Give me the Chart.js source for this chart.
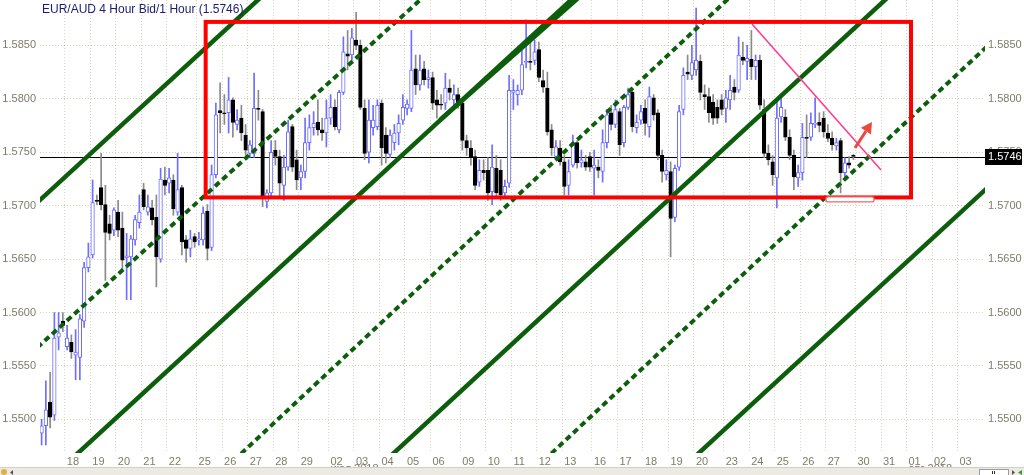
<!DOCTYPE html>
<html><head><meta charset="utf-8">
<script src="https://cdn.jsdelivr.net/npm/chart.js@4.4.1/dist/chart.umd.min.js"></script>
<style>html,body{margin:0;padding:0;background:#fff;overflow:hidden}#wrap{position:relative;width:1024px;height:475px}</style>
</head><body><div id="wrap"><canvas id="c"></canvas></div>
<script>
// 4-hour candles, one slot per candle (Sunday = 1 slot). First candle sits in slot -6.
const firstSlot = -6;
const opens = [
1.5487,1.5494,1.5516,1.5504,1.5577,1.5592,
1.5568,1.5572,1.5560,1.5558,1.5592,1.5642, 1.5654,1.5705,1.5717,1.5701,1.5683,1.5677, 1.5694,1.5679,1.5651,1.5652,1.5668,1.5684, 1.5715,1.5694,1.5698,1.5689,1.5650,1.5724, 1.5721,1.5724,1.5694,1.5717,1.5668,1.5660,
1.5671,
1.5668,1.5668,1.5695,1.5661,1.5729,1.5789, 1.5787,1.5787,1.5799,1.5776,1.5782,1.5766, 1.5749,1.5749,1.5791,1.5788,1.5704,1.5712, 1.5752,1.5746,1.5719,1.5736,1.5774,1.5743, 1.5726,1.5732,1.5759,1.5773,1.5778,1.5771,
1.5768,
1.5782,1.5792,1.5771,1.5806,1.5842,1.5841, 1.5855,1.5850,1.5791,1.5750,1.5773,1.5774, 1.5796,1.5766,1.5748,1.5759,1.5768,1.5780, 1.5791,1.5791,1.5828,1.5813,1.5828,1.5818, 1.5820,1.5799,1.5795,1.5796,1.5810,1.5799,
1.5804,
1.5796,1.5761,1.5754,1.5746,1.5722,1.5733, 1.5733,1.5713,1.5735,1.5733,1.5712,1.5721, 1.5806,1.5804,1.5808,1.5834,1.5835,1.5836, 1.5846,1.5817,1.5810,1.5771,1.5746,1.5754, 1.5741,1.5719,1.5738,1.5759,1.5740,1.5741,
1.5746,
1.5735,1.5736,1.5732,1.5759,1.5787,1.5776, 1.5788,1.5759,1.5792,1.5806,1.5773,1.5780, 1.5791,1.5774,1.5801,1.5787,1.5747,1.5729, 1.5732,1.5689,1.5736,1.5790,1.5825,1.5822, 1.5827,1.5835,1.5804,1.5802,1.5797,1.5792,
1.5799,
1.5791,1.5799,1.5811,1.5808,1.5839,1.5835, 1.5837,1.5830,1.5836,1.5790,1.5749,1.5741, 1.5726,1.5783,1.5783,1.5764,1.5747,1.5726, 1.5731,1.5764,1.5764,1.5776,1.5778,1.5782, 1.5768,1.5763,1.5756,1.5761,1.5731,1.5740,
1.5747];
const highs = [
1.5500,1.5536,1.5544,1.5600,1.5600,1.5600,
1.5588,1.5579,1.5584,1.5598,1.5647,1.5665, 1.5724,1.5710,1.5749,1.5719,1.5691,1.5698, 1.5705,1.5694,1.5674,1.5672,1.5691,1.5710, 1.5721,1.5710,1.5705,1.5710,1.5735,1.5736, 1.5735,1.5729,1.5749,1.5719,1.5672,1.5677,
1.5674,
1.5675,1.5699,1.5701,1.5738,1.5796,1.5815, 1.5804,1.5820,1.5801,1.5790,1.5794,1.5776, 1.5761,1.5824,1.5808,1.5790,1.5715,1.5761, 1.5761,1.5752,1.5747,1.5780,1.5776,1.5752, 1.5738,1.5782,1.5785,1.5788,1.5799,1.5782,
1.5799,
1.5804,1.5799,1.5808,1.5858,1.5864,1.5866, 1.5881,1.5855,1.5799,1.5799,1.5794,1.5799, 1.5799,1.5773,1.5771,1.5776,1.5785,1.5804, 1.5799,1.5864,1.5841,1.5841,1.5835,1.5827, 1.5825,1.5808,1.5804,1.5824,1.5818,1.5813,
1.5810,
1.5799,1.5766,1.5761,1.5752,1.5743,1.5743, 1.5745,1.5757,1.5747,1.5743,1.5724,1.5822, 1.5818,1.5813,1.5852,1.5874,1.5855,1.5855, 1.5853,1.5827,1.5825,1.5776,1.5761,1.5761, 1.5747,1.5743,1.5766,1.5761,1.5752,1.5747,
1.5750,
1.5752,1.5743,1.5771,1.5790,1.5794,1.5799, 1.5791,1.5794,1.5810,1.5808,1.5785,1.5794, 1.5799,1.5811,1.5804,1.5790,1.5752,1.5743, 1.5741,1.5738,1.5794,1.5829,1.5841,1.5850, 1.5885,1.5841,1.5813,1.5810,1.5804,1.5799,
1.5804,
1.5808,1.5822,1.5818,1.5858,1.5853,1.5850, 1.5864,1.5841,1.5841,1.5799,1.5757,1.5747, 1.5799,1.5802,1.5790,1.5771,1.5752,1.5738, 1.5777,1.5785,1.5787,1.5801,1.5787,1.5788, 1.5776,1.5769,1.5763,1.5763,1.5745,1.5746,
1.5748];
const lows = [
1.5476,1.5476,1.5492,1.5499,1.5565,1.5582,
1.5565,1.5557,1.5537,1.5537,1.5586,1.5638, 1.5651,1.5701,1.5696,1.5630,1.5668,1.5672, 1.5671,1.5640,1.5612,1.5612,1.5663,1.5679, 1.5696,1.5691,1.5682,1.5624,1.5647,1.5710, 1.5712,1.5691,1.5691,1.5654,1.5647,1.5652,
1.5661,
1.5663,1.5663,1.5649,1.5658,1.5726,1.5768, 1.5776,1.5768,1.5764,1.5771,1.5761,1.5747, 1.5745,1.5745,1.5780,1.5699,1.5698,1.5707, 1.5738,1.5707,1.5705,1.5733,1.5732,1.5715, 1.5715,1.5726,1.5752,1.5766,1.5766,1.5761,
1.5755,
1.5776,1.5771,1.5768,1.5804,1.5827,1.5836, 1.5846,1.5790,1.5743,1.5740,1.5766,1.5771, 1.5738,1.5740,1.5745,1.5752,1.5757,1.5776, 1.5785,1.5788,1.5804,1.5808,1.5813,1.5810, 1.5790,1.5782,1.5790,1.5790,1.5799,1.5794,
1.5791,
1.5752,1.5747,1.5738,1.5715,1.5718,1.5724, 1.5705,1.5701,1.5707,1.5705,1.5708,1.5717, 1.5790,1.5794,1.5804,1.5829,1.5827,1.5832, 1.5816,1.5806,1.5766,1.5747,1.5743,1.5738, 1.5710,1.5710,1.5736,1.5735,1.5736,1.5733,
1.5732,
1.5710,1.5726,1.5722,1.5754,1.5771,1.5773, 1.5747,1.5755,1.5790,1.5769,1.5768,1.5776, 1.5766,1.5764,1.5780,1.5743,1.5722,1.5724, 1.5652,1.5685,1.5733,1.5785,1.5818,1.5818, 1.5822,1.5799,1.5790,1.5778,1.5776,1.5777,
1.5785,
1.5778,1.5790,1.5799,1.5806,1.5832,1.5818, 1.5818,1.5818,1.5790,1.5745,1.5738,1.5719, 1.5698,1.5778,1.5761,1.5743,1.5715,1.5718, 1.5724,1.5745,1.5761,1.5773,1.5769,1.5764, 1.5760,1.5752,1.5752,1.5712,1.5724,1.5735,
1.5743];
const closes = [
1.5494,1.5509,1.5502,1.5576,1.5581,1.5588,
1.5576,1.5563,1.5563,1.5594,1.5642,1.5652, 1.5703,1.5704,1.5701,1.5675,1.5674,1.5696, 1.5677,1.5649,1.5653,1.5669,1.5687,1.5694, 1.5699,1.5699,1.5687,1.5652,1.5725,1.5719, 1.5726,1.5697,1.5715,1.5666,1.5660,1.5669,
1.5666,
1.5669,1.5693,1.5660,1.5729,1.5785,1.5787, 1.5786,1.5799,1.5778,1.5780,1.5768,1.5752, 1.5757,1.5791,1.5790,1.5708,1.5712,1.5750, 1.5746,1.5721,1.5736,1.5769,1.5736,1.5724, 1.5732,1.5759,1.5773,1.5777,1.5771,1.5768,
1.5782,
1.5792,1.5774,1.5806,1.5844,1.5840,1.5857, 1.5850,1.5792,1.5749,1.5780,1.5780,1.5794, 1.5754,1.5749,1.5766,1.5768,1.5777,1.5792, 1.5795,1.5827,1.5813,1.5827,1.5818,1.5820, 1.5796,1.5794,1.5794,1.5810,1.5806,1.5804,
1.5796,
1.5761,1.5754,1.5745,1.5719,1.5733,1.5731, 1.5712,1.5736,1.5712,1.5710,1.5718,1.5808, 1.5808,1.5808,1.5832,1.5835,1.5834,1.5844, 1.5820,1.5811,1.5769,1.5754,1.5755,1.5741, 1.5718,1.5732,1.5759,1.5740,1.5743,1.5736,
1.5736,
1.5738,1.5733,1.5759,1.5785,1.5776,1.5790, 1.5757,1.5792,1.5804,1.5774,1.5778,1.5788, 1.5777,1.5802,1.5785,1.5747,1.5732,1.5733, 1.5688,1.5735,1.5788,1.5822,1.5823,1.5834, 1.5836,1.5806,1.5802,1.5787,1.5782,1.5782,
1.5790,
1.5801,1.5808,1.5806,1.5841,1.5836,1.5838, 1.5830,1.5836,1.5794,1.5749,1.5743,1.5729, 1.5782,1.5792,1.5764,1.5747,1.5727,1.5731, 1.5764,1.5763,1.5777,1.5777,1.5775,1.5769, 1.5763,1.5757,1.5759,1.5731,1.5740,1.5738,
1.5746];

// day ticks (slot where each trading day starts) and their labels
const dayStarts = [0,6,12,18,24, 31,37,43,49,55, 62,68,74,80,86, 93,99,105,111,117, 124,130,136,142,148, 155,161,167,173,179, 186,192,198,204,210];
const dayLabels = ['18','19','20','21','22','25','26','27','28','29','02','03','04','05','06','09','10','11','12','13','16','17','18','19','20','23','24','25','26','27','30','31','01','02','03'];
const monthLabels = ['июл 2018','авг 2018'];
const monthStarts = [62, 198];

// drawn trend lines: [slot1, price1, slot2, price2]
const solidLines = [
  [-10, 1.56902, 50, 1.59093],
  [0, 1.54573, 123, 1.59069],
  [88.24, 1.57802, 123, 1.59022],
  [74, 1.54561, 197, 1.59074],
  [146, 1.54570, 220, 1.57276]
];
const dashedLines = [
  [-10, 1.55546, 87, 1.59050],
  [38, 1.54551, 159, 1.59045],
  [111, 1.54553, 220, 1.58604]
];
// annotations (data units)
const rangeBoxSlots = [33.1, 199.06];
const rangeBoxPrices = [1.58720, 1.57077];
const pinkLine = [161.65, 1.58701, 192.0, 1.57334];
const arrowLine = [185.88, 1.57540, 189.88, 1.57784];
const smallBoxSlots = [179.06, 190.35];
const smallBoxPrices = [1.57082, 1.57035];

const FONT = '"Liberation Sans", Arial, sans-serif';
const TICK = '#7e7c6a';
const GRID = 'rgba(185,185,150,0.6)';
const UP = '#6e6eff';
const lastPrice = closes[closes.length - 1];

const candleX = opens.map((_, i) => firstSlot + i + 0.5);
const isUp = closes.map((c, i) => c >= opens[i]);

const datasets = [];
solidLines.forEach(l => datasets.push({
  type: 'line', data: [{x: l[0], y: l[1]}, {x: l[2], y: l[3]}],
  borderColor: '#0c5e0c', borderWidth: 4.5, pointRadius: 0, clip: 0, order: 0, borderCapStyle: 'butt'
}));
dashedLines.forEach(l => datasets.push({
  type: 'line', data: [{x: l[0], y: l[1]}, {x: l[2], y: l[3]}],
  borderColor: '#0c5e0c', borderWidth: 4, borderDash: [6, 4], pointRadius: 0, clip: 0, order: 0, borderCapStyle: 'butt'
}));
datasets.push({
  type: 'bar', data: candleX.map((x, i) => ({x, y: [opens[i], closes[i]]})),
  backgroundColor: isUp.map(u => u ? '#ffffff' : '#000000'),
  borderColor: isUp.map(u => u ? UP : '#000000'),
  borderWidth: 1, borderSkipped: false, barThickness: 3.6, grouped: false, minBarLength: 1, order: 1
});
datasets.push({
  type: 'bar', data: candleX.map((x, i) => ({x, y: [lows[i], highs[i]]})),
  backgroundColor: isUp.map(u => u ? UP : '#8a8a8a'),
  borderWidth: 0, barThickness: 1, grouped: false, order: 2
});

const overlay = {
  id: 'overlay',
  beforeDatasetsDraw(chart) {
    const {ctx, chartArea: a, scales: {y}} = chart;
    const py = Math.round(y.getPixelForValue(lastPrice)) + 0.5;
    ctx.save();
    ctx.strokeStyle = '#000'; ctx.lineWidth = 1;
    ctx.beginPath(); ctx.moveTo(a.left, py); ctx.lineTo(a.right, py); ctx.stroke();
    ctx.restore();
  },
  afterDatasetsDraw(chart) {
    const {ctx, scales: {x, y}} = chart;
    ctx.save();
    // pink down trend line
    ctx.strokeStyle = '#ff3d8e'; ctx.lineWidth = 1.6;
    ctx.beginPath();
    ctx.moveTo(x.getPixelForValue(pinkLine[0]), y.getPixelForValue(pinkLine[1]));
    ctx.lineTo(x.getPixelForValue(pinkLine[2]), y.getPixelForValue(pinkLine[3]));
    ctx.stroke();
    // range box
    const bx1 = x.getPixelForValue(rangeBoxSlots[0]), bx2 = x.getPixelForValue(rangeBoxSlots[1]);
    const by1 = y.getPixelForValue(rangeBoxPrices[0]), by2 = y.getPixelForValue(rangeBoxPrices[1]);
    ctx.strokeStyle = '#ff0000'; ctx.lineWidth = 4; ctx.lineJoin = 'miter';
    ctx.strokeRect(bx1, by1, bx2 - bx1, by2 - by1);
    // small rounded box
    const sx1 = x.getPixelForValue(smallBoxSlots[0]), sx2 = x.getPixelForValue(smallBoxSlots[1]);
    const sy1 = y.getPixelForValue(smallBoxPrices[0]), sy2 = y.getPixelForValue(smallBoxPrices[1]);
    ctx.beginPath();
    ctx.roundRect(sx1, sy1, sx2 - sx1, Math.max(4, sy2 - sy1), 2);
    ctx.fillStyle = '#fff'; ctx.fill();
    ctx.strokeStyle = '#ee6a6a'; ctx.lineWidth = 1.3; ctx.stroke();
    // arrow
    const ax1 = x.getPixelForValue(arrowLine[0]), ay1 = y.getPixelForValue(arrowLine[1]);
    const ax2 = x.getPixelForValue(arrowLine[2]), ay2 = y.getPixelForValue(arrowLine[3]);
    const ang = Math.atan2(ay2 - ay1, ax2 - ax1);
    const hl = 11, hw = 6;
    const bxm = ax2 - hl * Math.cos(ang), bym = ay2 - hl * Math.sin(ang);
    ctx.strokeStyle = '#ea4a3e'; ctx.fillStyle = '#ea4a3e'; ctx.lineWidth = 3;
    ctx.beginPath(); ctx.moveTo(ax1, ay1); ctx.lineTo(bxm, bym); ctx.stroke();
    ctx.beginPath();
    ctx.moveTo(ax2, ay2);
    ctx.lineTo(bxm + hw * Math.sin(ang), bym - hw * Math.cos(ang));
    ctx.lineTo(bxm - hw * Math.sin(ang), bym + hw * Math.cos(ang));
    ctx.closePath(); ctx.fill();
    ctx.restore();
  },
  afterDraw(chart) {
    const {ctx, chartArea: a, scales: {x, y}} = chart;
    ctx.save();
    // title
    ctx.font = '12px ' + FONT; ctx.fillStyle = '#1d1d6e'; ctx.textBaseline = 'middle'; ctx.textAlign = 'left';
    ctx.fillText('EUR/AUD 4 Hour Bid/1 Hour (' + lastPrice.toFixed(4) + ')', 42, 10);
    // last price box
    const py = Math.round(y.getPixelForValue(lastPrice));
    ctx.fillStyle = '#000'; ctx.fillRect(a.right, py - 8, 37, 16);
    ctx.fillStyle = '#fff'; ctx.font = '11px ' + FONT; ctx.fillText(lastPrice.toFixed(4), a.right + 3, py);
    // month labels (partly hidden under scrollbar)
    ctx.fillStyle = TICK; ctx.textBaseline = 'top';
    monthLabels.forEach((m, i) => ctx.fillText(m, x.getPixelForValue(monthStarts[i]) + 2, 463));
    // scrollbar strip
    ctx.fillStyle = '#eceae3'; ctx.fillRect(0, 467, 1024, 8);
    ctx.fillStyle = '#d2d0c6'; ctx.fillRect(0, 467, 1024, 1);
    ctx.fillStyle = '#fff'; ctx.strokeStyle = '#9c9c9c'; ctx.lineWidth = 1;
    ctx.fillRect(979.5, 469.5, 29, 6); ctx.strokeRect(979.5, 469.5, 29, 6);
    ctx.fillStyle = '#333'; ctx.fillRect(992, 471, 1, 3); ctx.fillRect(994, 471, 1, 3);
    ctx.fillStyle = '#555'; ctx.beginPath(); ctx.moveTo(1012, 470); ctx.lineTo(1015, 472.5); ctx.lineTo(1012, 475); ctx.fill();
    ctx.fillStyle = '#3a9a3a'; ctx.beginPath(); ctx.moveTo(1018, 472.5); ctx.lineTo(1022, 470); ctx.lineTo(1022, 475); ctx.fill();
    ctx.fillStyle = '#e0b040'; ctx.beginPath(); ctx.arc(4, 472, 3, 0, Math.PI * 2); ctx.fill();
    ctx.fillStyle = '#555'; ctx.beginPath(); ctx.moveTo(13, 470); ctx.lineTo(10, 472.5); ctx.lineTo(13, 475); ctx.fill();
    ctx.restore();
  }
};

const noPad = s => { s.paddingTop = 0; s.paddingBottom = 0; s.paddingLeft = 0; s.paddingRight = 0; };

new Chart(document.getElementById('c'), {
  type: 'bar',
  data: {datasets},
  plugins: [overlay],
  options: {
    responsive: true, maintainAspectRatio: false, animation: false, events: [],
    devicePixelRatio: 1,
    layout: {padding: 0},
    plugins: {legend: {display: false}, tooltip: {enabled: false}, title: {display: false}},
    scales: {
      x: {
        type: 'linear', min: -5.88, max: 216.47, offset: false,
        afterBuildTicks: s => { s.ticks = dayStarts.map(v => ({value: v})); },
        afterFit: s => { s.height = 22; noPad(s); },
        grid: {color: GRID, lineWidth: 1, drawTicks: false, offset: false},
        border: {display: false, dash: [1, 2]},
        ticks: {autoSkip: false, maxRotation: 0, minRotation: 0, padding: 2, labelOffset: 8, color: TICK,
                font: {family: FONT, size: 11}, callback: (v, i) => dayLabels[i]}
      },
      y: {
        type: 'linear', position: 'left', min: 1.54685, max: 1.58925,
        afterFit: s => { s.width = 40; noPad(s); },
        grid: {color: GRID, lineWidth: 1, drawTicks: false},
        border: {display: false, dash: [1, 2]},
        ticks: {stepSize: 0.005, includeBounds: false, padding: 4, color: TICK,
                font: {family: FONT, size: 11}, callback: v => v.toFixed(4)}
      },
      y2: {
        type: 'linear', position: 'right', min: 1.54685, max: 1.58925,
        afterFit: s => { s.width = 39; noPad(s); },
        grid: {drawOnChartArea: false, drawTicks: false},
        border: {display: false},
        ticks: {stepSize: 0.005, includeBounds: false, padding: 3, color: TICK,
                font: {family: FONT, size: 11}, callback: v => v.toFixed(4)}
      }
    }
  }
});
</script>
</body></html>
